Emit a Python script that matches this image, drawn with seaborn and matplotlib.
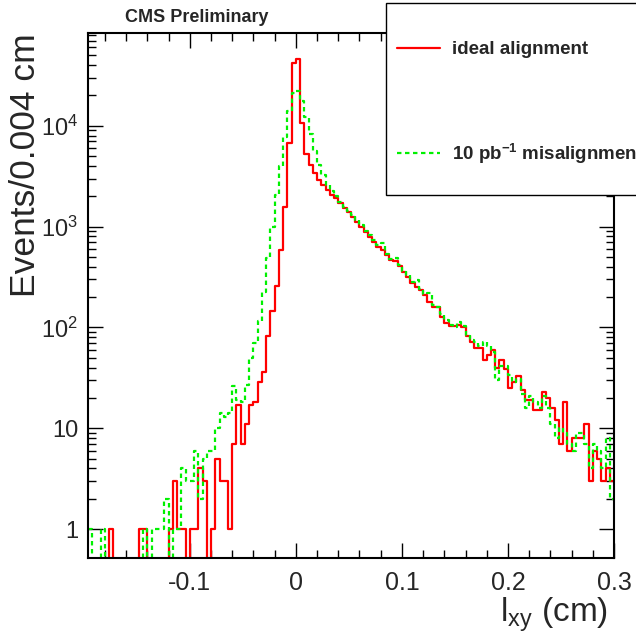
import numpy as np
import pandas as pd
import matplotlib
matplotlib.use("Agg")
import matplotlib.pyplot as plt
from matplotlib.patches import Rectangle
from matplotlib.lines import Line2D
from matplotlib.ticker import MultipleLocator, FixedLocator, NullFormatter
import seaborn as sns

# histogram range and binning (0.004 cm bins)
x_lo, x_hi = -0.196, 0.3

ideal = [0, 0, 0, 0, 0, 1, 0, 0, 0, 0,
         0, 0, 1, 1, 0, 0, 0, 0, 0, 1,
         3, 1, 1, 0, 1, 1, 4, 3, 0, 1,
         5, 3, 3, 1, 7, 17, 7, 11, 17, 18,
         29, 36, 82, 145, 255, 580, 1560, 6800, 41900, 46000,
         10700, 5300, 4090, 3380, 2900, 2590, 2320, 2080, 1920, 1730,
         1520, 1400, 1255, 1120, 1000, 890, 795, 710, 632, 586,
         523, 466, 455, 406, 357, 314, 278, 254, 235, 210,
         177, 161, 160, 128, 111, 103, 103, 106, 102, 82,
         72, 62, 62, 48, 53, 60, 40, 47, 39, 25,
         29, 33, 24, 19, 19, 15, 15, 23, 20, 16,
         12, 7, 18, 6, 8, 8, 8, 11, 3, 6,
         5, 3, 4, 3]

misaligned = [1, 0, 0, 1, 0, 0, 0, 0, 0, 0,
              0, 0, 0, 1, 0, 1, 1, 1, 2, 0,
              1, 1, 4, 3, 3, 6, 2, 5, 6, 6,
              10, 14, 13, 14, 26, 19, 18, 27, 50, 70,
              115, 225, 490, 980, 2080, 4000, 7700, 13900, 21000, 22000,
              17500, 12300, 8200, 5670, 4130, 3250, 2590, 2240, 1990, 1760,
              1560, 1440, 1290, 1150, 1040, 910, 820, 740, 650, 680,
              540, 480, 490, 415, 365, 330, 285, 295, 240, 215,
              221, 168, 158, 135, 118, 106, 100, 112, 104, 84,
              75, 72, 66, 72, 65, 57, 30, 41, 41, 34,
              29, 31, 22, 16, 21, 18, 16, 21, 16, 11,
              8, 10, 9, 7, 6, 9, 9, 7, 4, 7,
              6, 4, 8, 2]

labels = ["ideal alignment", "10 pb$^{-1}$ misalignment"]
x_ticks = [-0.1, 0, 0.1, 0.2, 0.3]
x_tick_labels = ["-0.1", "0", "0.1", "0.2", "0.3"]
y_ticks = [1, 10, 100, 1000, 10000]
y_tick_labels = ["1", "10", "$10^{2}$", "$10^{3}$", "$10^{4}$"]

edges = np.linspace(x_lo, x_hi, len(ideal) + 1)
centers = (edges[:-1] + edges[1:]) / 2
df = pd.DataFrame({
    "lxy": np.concatenate([centers, centers]),
    "events": ideal + misaligned,
    "sample": [labels[0]] * len(ideal) + [labels[1]] * len(misaligned),
})

sns.set_style("ticks")
plt.rcParams["font.family"] = ["Liberation Sans", "DejaVu Sans"]
plt.rcParams["mathtext.default"] = "regular"

W, H = 636, 637
fig = plt.figure(figsize=(W / 100, H / 100), dpi=100)
ax = fig.add_axes([88 / W, 79 / H, 526 / W, 525 / H])

styles = {labels[0]: dict(color="#ff0000", linestyle="-"),
          labels[1]: dict(color="#00f000", linestyle=(0, (2, 1.6)))}
for lab in labels:
    sub = df[df["sample"] == lab]
    sns.histplot(data=sub, x="lxy", weights="events", bins=list(edges),
                 element="step", fill=False, linewidth=1.6, ax=ax,
                 **styles[lab])

ax.set_yscale("log")
ax.set_xlim(x_lo, x_hi)
ax.set_ylim(0.516, 83300)

ax.xaxis.set_major_locator(FixedLocator(x_ticks))
ax.set_xticklabels(x_tick_labels)
ax.xaxis.set_minor_locator(MultipleLocator(0.02))
ax.yaxis.set_major_locator(FixedLocator(y_ticks))
ax.set_yticklabels(y_tick_labels)
minor_y = [m * 10 ** d for d in range(0, 5) for m in range(2, 10)]
ax.yaxis.set_minor_locator(FixedLocator(minor_y))
ax.yaxis.set_minor_formatter(NullFormatter())

ax.tick_params(which="both", direction="in", top=True, right=True,
               width=1, color="black")
ax.tick_params(which="major", length=11)
ax.tick_params(axis="x", which="major", labelsize=18, pad=9)
ax.tick_params(axis="y", which="major", labelsize=17, pad=7)
ax.tick_params(which="minor", length=5.5)
for s in ax.spines.values():
    s.set_linewidth(1.5)
    s.set_color("black")

ax.set_xlabel("l$_{xy}$ (cm)", loc="right", fontsize=24)
ax.xaxis.set_label_coords(0.989, -0.072)
ax.set_ylabel("Events/0.004 cm", loc="top", fontsize=25.5)
ax.yaxis.set_label_coords(-0.087, 1.0)

fig.text(125 / W, 1 - 17 / H, "CMS Preliminary", fontsize=13,
         fontweight="bold", ha="left", va="center")

# legend box (extends past the right edge as in the original)
fig.add_artist(Rectangle((386 / W, 1 - 195 / H), 280 / W, 192 / H,
                         transform=fig.transFigure, facecolor="white",
                         edgecolor="black", linewidth=1, zorder=3))
handles = [Line2D([], [], linewidth=1.6, **styles[lab]) for lab in labels]
leg = fig.legend(handles, labels, loc="upper left",
                 bbox_to_anchor=(397 / W, 1 - 41 / H), frameon=False,
                 borderpad=0, borderaxespad=0, labelspacing=4.45,
                 handlelength=2.3, handletextpad=0.65,
                 prop={"size": 13.5, "weight": "bold"})
leg.set_zorder(4)

fig.savefig("out.png", dpi=100)
